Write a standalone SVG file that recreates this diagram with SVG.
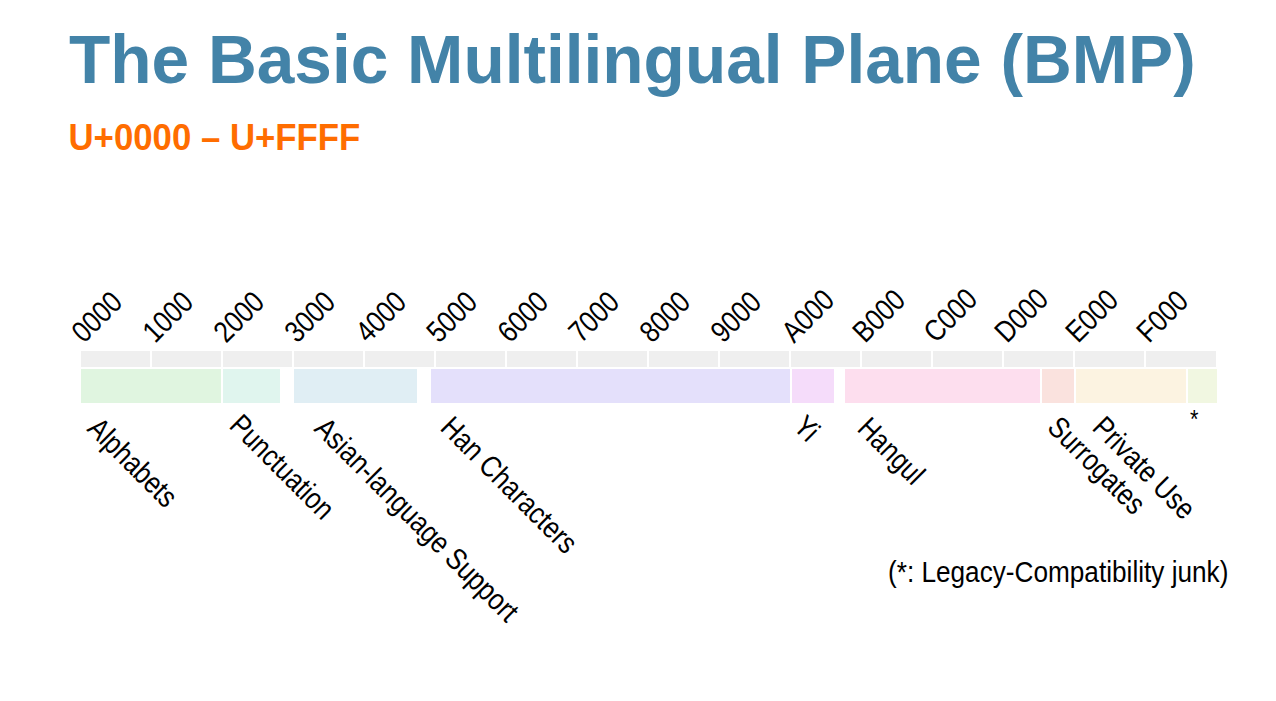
<svg xmlns="http://www.w3.org/2000/svg" width="1276" height="701" viewBox="0 0 1276 701">
<style>
.title{font-family:"Liberation Sans",Arial,sans-serif;font-weight:bold;font-size:67.6px;fill:#4383a8}
.sub{font-family:"Liberation Sans",Arial,sans-serif;font-weight:bold;font-size:37px;fill:#ff6d00}
.tick{font-family:"Liberation Sans",Arial,sans-serif;font-size:30px;fill:#000}
.lbl{font-family:"Liberation Sans",Arial,sans-serif;font-size:30px;fill:#000}
.cell{fill:#efefef}
</style>
<rect width="1276" height="701" fill="#fff"/>
<text class="title" x="69" y="83">The Basic Multilingual Plane (BMP)</text>
<text class="sub" transform="translate(68.5,149.5) scale(0.94,1)">U+0000 – U+FFFF</text>

<g id="axis">
<rect class="cell" x="81" y="351" width="69" height="16"/>
<rect class="cell" x="152" y="351" width="69" height="16"/>
<rect class="cell" x="223" y="351" width="69" height="16"/>
<rect class="cell" x="294" y="351" width="69" height="16"/>
<rect class="cell" x="365" y="351" width="69" height="16"/>
<rect class="cell" x="436" y="351" width="69" height="16"/>
<rect class="cell" x="507" y="351" width="69" height="16"/>
<rect class="cell" x="578" y="351" width="69" height="16"/>
<rect class="cell" x="649" y="351" width="69" height="16"/>
<rect class="cell" x="720" y="351" width="69" height="16"/>
<rect class="cell" x="791" y="351" width="69" height="16"/>
<rect class="cell" x="862" y="351" width="69" height="16"/>
<rect class="cell" x="933" y="351" width="69" height="16"/>
<rect class="cell" x="1004" y="351" width="69" height="16"/>
<rect class="cell" x="1075" y="351" width="69" height="16"/>
<rect class="cell" x="1146" y="351" width="70" height="16"/>
<text class="tick" transform="translate(84,344) rotate(-45) scale(0.85,1)">0000</text>
<text class="tick" transform="translate(155,344) rotate(-45) scale(0.85,1)">1000</text>
<text class="tick" transform="translate(226,344) rotate(-45) scale(0.85,1)">2000</text>
<text class="tick" transform="translate(297,344) rotate(-45) scale(0.85,1)">3000</text>
<text class="tick" transform="translate(368,344) rotate(-45) scale(0.85,1)">4000</text>
<text class="tick" transform="translate(439,344) rotate(-45) scale(0.85,1)">5000</text>
<text class="tick" transform="translate(510,344) rotate(-45) scale(0.85,1)">6000</text>
<text class="tick" transform="translate(581,344) rotate(-45) scale(0.85,1)">7000</text>
<text class="tick" transform="translate(652,344) rotate(-45) scale(0.85,1)">8000</text>
<text class="tick" transform="translate(723,344) rotate(-45) scale(0.85,1)">9000</text>
<text class="tick" transform="translate(794,344) rotate(-45) scale(0.85,1)">A000</text>
<text class="tick" transform="translate(865,344) rotate(-45) scale(0.85,1)">B000</text>
<text class="tick" transform="translate(936,344) rotate(-45) scale(0.85,1)">C000</text>
<text class="tick" transform="translate(1007,344) rotate(-45) scale(0.85,1)">D000</text>
<text class="tick" transform="translate(1078,344) rotate(-45) scale(0.85,1)">E000</text>
<text class="tick" transform="translate(1149,344) rotate(-45) scale(0.85,1)">F000</text>
</g>

<g id="alphabets">
<rect x="81" y="369" width="140" height="34" fill="#e0f5e0"/>
<text class="lbl" transform="translate(86,430) rotate(45) scale(0.84,1)">Alphabets</text>
</g>
<g id="punctuation">
<rect x="223" y="369" width="57" height="34" fill="#e0f5ee"/>
<text class="lbl" transform="translate(228,427) rotate(45) scale(0.84,1)">Punctuation</text>
</g>
<g id="asian">
<rect x="294" y="369" width="123" height="34" fill="#e0eef4"/>
<text class="lbl" transform="translate(313,430) rotate(45) scale(0.85,1)">Asian-language Support</text>
</g>
<g id="han">
<rect x="431" y="369" width="359" height="34" fill="#e4e0fb"/>
<text class="lbl" transform="translate(439,429) rotate(45) scale(0.85,1)">Han Characters</text>
</g>
<g id="yi">
<rect x="792" y="369" width="42" height="34" fill="#f5dcfa"/>
<text class="lbl" transform="translate(792,428) rotate(45) scale(0.84,1)">Yi</text>
</g>
<g id="hangul">
<rect x="845" y="369" width="195" height="34" fill="#fddeee"/>
<text class="lbl" transform="translate(856,430) rotate(45) scale(0.84,1)">Hangul</text>
</g>
<g id="surrogates">
<rect x="1042" y="369" width="32" height="34" fill="#fae2de"/>
<text class="lbl" transform="translate(1046,429) rotate(45) scale(0.84,1)">Surrogates</text>
</g>
<g id="private-use">
<rect x="1076" y="369" width="110" height="34" fill="#fcf3e1"/>
<text class="lbl" transform="translate(1091,429) rotate(45) scale(0.84,1)">Private Use</text>
</g>
<g id="compat">
<rect x="1188" y="369" width="29" height="34" fill="#f1f7e1"/>
<text class="lbl" transform="translate(1190,428) scale(0.84,1)" style="font-size:26px">*</text>
</g>

<g id="connectors"></g>

<text class="lbl" transform="translate(888,582) scale(0.873,1)">(*: Legacy-Compatibility junk)</text>
</svg>
